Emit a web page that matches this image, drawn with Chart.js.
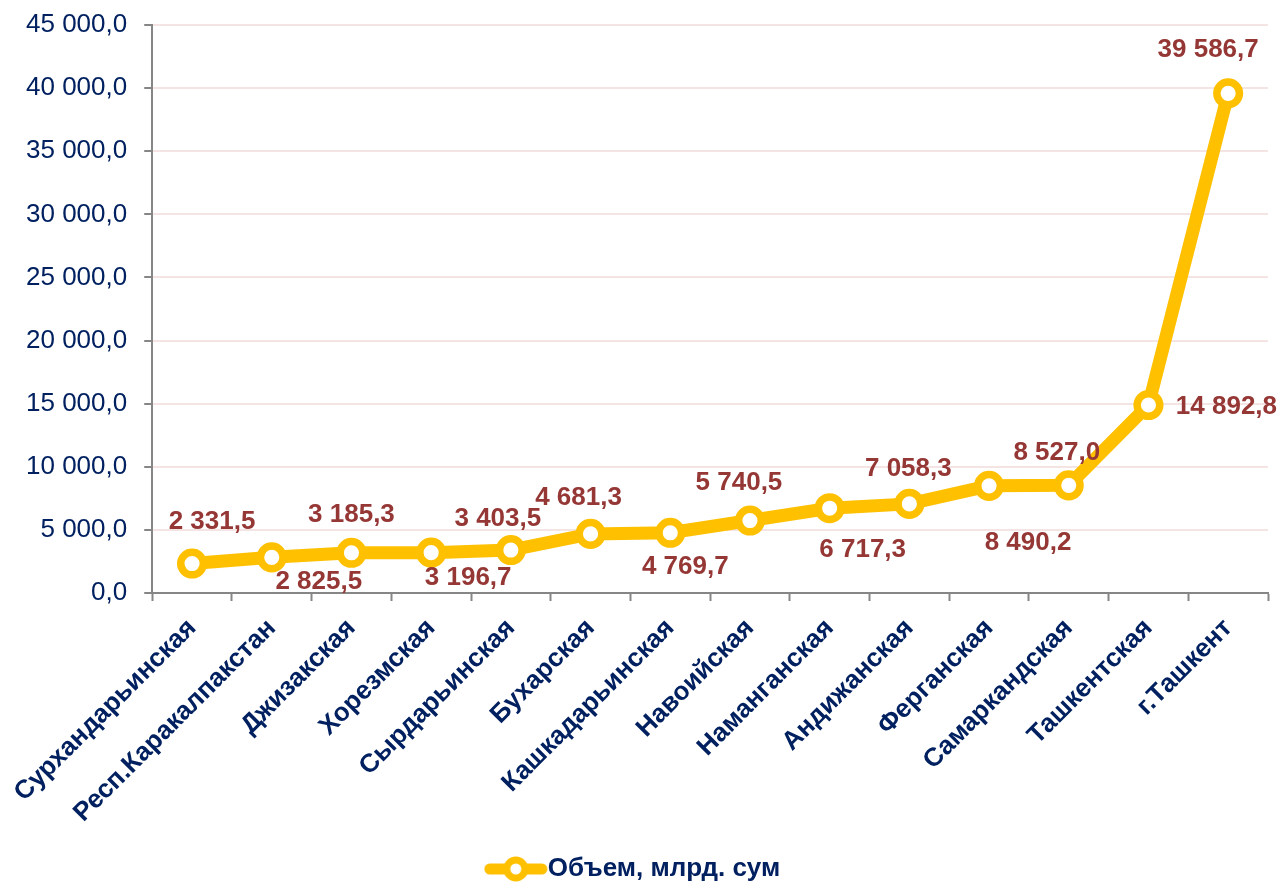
<!DOCTYPE html>
<html>
<head>
<meta charset="utf-8">
<script src="https://cdn.jsdelivr.net/npm/chart.js@4/dist/chart.umd.min.js"></script>
<style>
  html, body { margin: 0; padding: 0; background: #fff; }
  #wrap { width: 1282px; height: 883px; position: relative; }
</style>
</head>
<body>
<div id="wrap"><canvas id="chart"></canvas></div>
<script>
const regions = [
  'Сурхандарьинская', 'Респ.Каракалпакстан', 'Джизакская', 'Хорезмская',
  'Сырдарьинская', 'Бухарская', 'Кашкадарьинская', 'Навоийская',
  'Наманганская', 'Андижанская', 'Ферганская', 'Самаркандская',
  'Ташкентская', 'г.Ташкент'
]
const volume = [
  2331.5, 2825.5, 3185.3, 3196.7, 3403.5, 4681.3, 4769.7, 5740.5,
  6717.3, 7058.3, 8490.2, 8527.0, 14892.8, 39586.7
]
const seriesName = 'Объем, млрд. сум'

// where each value label sits relative to its point (px)
const labelOffsets = [
  [20, -42], [47, 24], [0, -38], [37, 25], [-13, -31], [-12, -36], [15, 34],
  [-11, -38], [33, 42], [-1, -35], [39, 57], [-12, -33], [78, 2], [-20, -43]
]

const gold = '#FFC000'
const navy = '#002060'
const wine = '#953735'
const font = '"Liberation Sans", Arial, sans-serif'

function fmt(v) {
  const parts = v.toFixed(1).split('.')
  return parts[0].replace(/\B(?=(\d{3})+(?!\d))/g, ' ') + ',' + parts[1]
}

// legend marker: line with a ring in the middle
const icon = document.createElement('canvas')
icon.width = 64
icon.height = 28
const ic = icon.getContext('2d')
ic.strokeStyle = gold
ic.lineWidth = 11
ic.lineCap = 'round'
ic.beginPath()
ic.moveTo(6, 14)
ic.lineTo(58, 14)
ic.stroke()
ic.beginPath()
ic.arc(32, 14, 9, 0, Math.PI * 2)
ic.fillStyle = '#fff'
ic.fill()
ic.lineWidth = 7
ic.stroke()

const valueLabels = {
  id: 'valueLabels',
  afterDatasetsDraw(chart) {
    const ctx = chart.ctx
    const meta = chart.getDatasetMeta(0)
    ctx.save()
    ctx.font = 'bold 26px ' + font
    ctx.fillStyle = wine
    ctx.textAlign = 'center'
    ctx.textBaseline = 'middle'
    meta.data.forEach((pt, i) => {
      const off = labelOffsets[i]
      ctx.fillText(fmt(volume[i]), pt.x + off[0], pt.y + off[1])
    })
    ctx.restore()
  }
}

new Chart(document.getElementById('chart').getContext('2d'), {
  type: 'line',
  data: {
    labels: regions,
    datasets: [
      {
        label: seriesName,
        data: volume,
        borderColor: gold,
        borderWidth: 13,
        backgroundColor: '#fff',
        pointBackgroundColor: '#fff',
        pointBorderColor: gold,
        pointBorderWidth: 7.5,
        pointRadius: 11.3,
        pointHoverRadius: 11.3,
        pointStyle: 'circle',
        tension: 0,
        fill: false,
        clip: false,
      },
    ],
  },
  options: {
    responsive: true,
    maintainAspectRatio: false,
    animation: false,
    layout: {
      autoPadding: false,
      padding: { top: 25, left: 9, right: 14, bottom: -9 },
    },
    scales: {
      x: {
        offset: true,
        afterFit: (scale) => {
          scale.height = 263
          scale.paddingLeft = 0
          scale.paddingRight = 0
        },
        grid: {
          offset: true,
          drawOnChartArea: false,
          tickLength: 8,
          tickColor: '#868686',
          tickWidth: 2,
        },
        border: { color: '#868686', width: 2 },
        ticks: {
          autoSkip: false,
          maxRotation: 45,
          minRotation: 45,
          padding: 12,
          color: navy,
          font: { family: font, size: 26, weight: 'bold' },
        },
      },
      y: {
        min: 0,
        max: 45000,
        afterFit: (scale) => {
          scale.paddingTop = 0
          scale.paddingBottom = 0
        },
        ticks: {
          stepSize: 5000,
          padding: 17,
          color: navy,
          font: { family: font, size: 26 },
          callback: (v) => fmt(v),
        },
        grid: {
          color: '#F5E4E4',
          lineWidth: 2,
          tickLength: 8,
          tickColor: '#868686',
          tickWidth: 2,
        },
        border: { color: '#868686', width: 2 },
      },
    },
    plugins: {
      legend: {
        display: true,
        position: 'bottom',
        labels: {
          usePointStyle: true,
          pointStyle: icon,
          pointStyleWidth: 38,
          boxHeight: 28,
          padding: 0,
          color: navy,
          font: { family: font, size: 26, weight: 'bold' },
          generateLabels: () => [{
            text: seriesName,
            pointStyle: icon,
            fontColor: navy,
            lineWidth: 0,
            datasetIndex: 0,
          }],
        },
      },
      tooltip: { enabled: false },
      title: { display: false },
    },
  },
  plugins: [valueLabels],
})
</script>
</body>
</html>
